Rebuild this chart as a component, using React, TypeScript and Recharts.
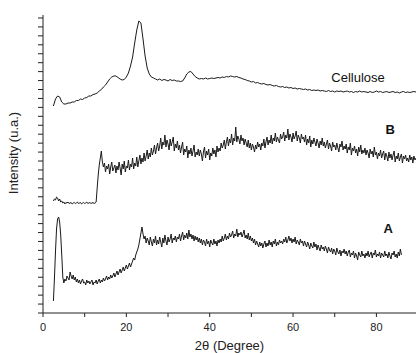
import { LineChart, Line, XAxis, YAxis, ReferenceDot } from "recharts";

// start of all three scans (degrees 2θ) and the step of each recording
const X_START = 2.5;
const STEP_CELLULOSE = 0.5;
const STEP_NOISY = 0.25;

// curve heights above the x axis (arbitrary units, stacked by offset)
const cellulose = [
  207, 214, 217, 216, 211, 209, 209, 210, 210, 211,
  211, 212.5, 212.5, 214, 213.5, 215, 215.5, 217, 217, 218.5,
  219, 220, 222, 223.5, 226, 228, 231, 234, 236, 237,
  237, 235.5, 234, 233, 233.5, 236, 240, 247, 256, 270,
  283, 292, 290, 274, 257, 245, 239, 236, 235, 234,
  233, 234, 232.5, 233.5, 233, 232, 233.5, 232.5, 233, 232,
  232, 231.5, 232, 235, 239, 241, 241.5, 239, 236.5, 235,
  234, 234.5, 234, 235, 234, 234.5, 235, 234.5, 235, 235.5,
  235, 236, 235.5, 236.5, 236, 237, 236.5, 236, 236.5, 235.5,
  235, 234, 233.5, 232.5, 232, 231, 231.5, 230, 230.5, 229.5,
  229, 229.5, 228.5, 228, 228.5, 227.5, 227, 227.5, 226.5, 226,
  226.5, 225.5, 226, 225, 225.5, 224.5, 225, 224, 224.5, 224,
  223.5, 224, 223, 223.5, 222.5, 223, 222.5, 223, 222, 222.5,
  222, 221.5, 222.5, 221.5, 222, 221, 222, 221.5, 222, 221,
  221.5, 222, 221, 221.5, 220.5, 221.5, 221, 222, 221, 221.5,
  221, 220.5, 221.5, 220.5, 221, 222, 221, 221.5, 220.5, 221,
  221.5, 220.5, 221, 221.5, 220.5, 221, 220, 221, 221.5, 220.5,
  221, 220.5, 221, 221.5, 221,
];

const sampleB = [
  112, 114, 113, 116, 115, 112, 114, 111, 112, 110, 111, 109, 110.5, 110, 111, 109.5, 110, 110.5, 109, 110,
  110.5, 109.5, 110, 111, 109.5, 110, 110.5, 109, 110, 110.5, 109.5, 110, 111, 109.5, 110, 110.5, 109.5, 110, 110.5, 109.5,
  110, 111, 125, 138, 148, 155, 162, 151, 146, 150, 141, 147, 144, 149, 139, 146, 151, 142, 145, 148,
  140, 147, 143, 151, 145, 138, 149, 144, 152, 141, 147, 145, 153, 143, 149, 146, 155, 144, 150, 147,
  156, 146, 152, 158, 149, 155, 151, 160, 152, 157, 163, 154, 160, 156, 165, 158, 162, 168, 159, 165,
  170, 162, 167, 175, 164, 171, 168, 178, 166, 173, 169, 163, 174, 167, 171, 176, 162, 169, 165, 172,
  163, 168, 160, 166, 171, 158, 164, 161, 167, 155, 163, 159, 165, 157, 162, 168, 156, 161, 158, 164,
  157, 163, 159, 152, 161, 166, 155, 162, 158, 164, 153, 160, 157, 165, 159, 163, 156, 167, 161, 165,
  162, 170, 165, 168, 173, 164, 171, 176, 167, 174, 170, 179, 168, 175, 172, 186, 171, 177, 174, 169,
  178, 172, 175, 168, 174, 170, 166, 173, 165, 170, 163, 169, 166, 161, 168, 164, 171, 166, 169, 163,
  170, 167, 174, 165, 171, 176, 168, 173, 170, 178, 169, 175, 172, 180, 171, 176, 173, 170, 179, 174,
  176, 181, 172, 178, 175, 184, 173, 179, 176, 171, 180, 174, 177, 182, 172, 178, 175, 170, 179, 174,
  176, 171, 178, 168, 174, 170, 177, 166, 173, 169, 175, 171, 167, 174, 170, 165, 172, 168, 175, 167,
  171, 165, 169, 173, 164, 170, 167, 162, 171, 166, 168, 163, 170, 165, 161, 169, 166, 172, 163, 167,
  164, 169, 160, 166, 163, 170, 158, 165, 162, 167, 160, 164, 157, 166, 161, 168, 159, 163, 160, 165,
  158, 163, 160, 155, 164, 159, 162, 156, 166, 158, 161, 154, 160, 157, 163, 155, 159, 162, 153, 160,
  157, 152, 161, 155, 159, 153, 158, 162, 151, 157, 154, 160, 152, 156, 159, 150, 157, 154, 158, 152,
  155, 151, 158, 153, 156, 150, 157, 153, 155,
];

const sampleA = [
  12, 35, 62, 84, 94, 96, 91, 78, 58, 36, 30, 34, 32, 37, 35, 33, 41, 37, 34, 38,
  33, 36, 31, 34, 30, 33, 29, 32, 34, 30, 31, 28, 33, 30, 32, 29, 31, 33, 28, 31,
  30, 33, 29, 32, 34, 30, 33, 31, 35, 32, 34, 37, 33, 36, 34, 38, 35, 37, 40, 36,
  39, 42, 38, 41, 44, 40, 43, 46, 42, 45, 48, 44, 47, 50, 46, 49, 52, 55, 53, 58,
  61, 64, 68, 74, 80, 86, 79, 74, 77, 70, 75, 72, 68, 76, 71, 67, 74, 70, 77, 68,
  73, 69, 76, 71, 66, 75, 70, 78, 72, 68, 76, 71, 74, 79, 70, 75, 73, 77, 71, 76,
  74, 79, 72, 77, 81, 73, 78, 75, 80, 74, 83, 76, 79, 74, 78, 72, 77, 73, 76, 71,
  75, 70, 74, 68, 73, 71, 67, 74, 69, 72, 66, 73, 70, 68, 74, 69, 72, 67, 73, 70,
  74, 71, 77, 72, 75, 79, 73, 77, 74, 80, 76, 78, 82, 75, 79, 77, 84, 76, 80, 78,
  81, 76, 79, 83, 75, 78, 74, 80, 73, 77, 72, 75, 70, 74, 68, 72, 69, 66, 71, 67,
  70, 65, 69, 72, 66, 70, 67, 73, 68, 71, 66, 72, 69, 74, 67, 71, 68, 73, 70, 72,
  69, 74, 71, 76, 70, 73, 77, 72, 75, 70, 74, 71, 76, 69, 73, 71, 68, 74, 70, 72,
  67, 72, 69, 66, 71, 68, 64, 70, 67, 65, 71, 66, 69, 63, 68, 65, 62, 68, 64, 66,
  62, 67, 64, 60, 66, 63, 61, 65, 59, 64, 62, 58, 65, 61, 59, 63, 57, 62, 60, 64,
  59, 62, 57, 61, 63, 56, 60, 58, 62, 55, 60, 57, 53, 61, 58, 56, 62, 57, 59, 55,
  60, 57, 62, 56, 59, 61, 55, 60, 58, 63, 56, 59, 57, 61, 55, 60, 58, 56, 62, 57,
  59, 55, 61, 57, 54, 60, 58, 62, 56, 59, 55, 61, 57, 64, 58,
];

const xTicks = [0, 10, 20, 30, 40, 50, 60, 70, 80];
const yTicks = Array.from({ length: 34 }, (_, i) => i * 8.94);

const curveLabels = [
  { x: 75.6, y: 236, text: "Cellulose", bold: false },
  { x: 83.3, y: 184, text: "B", bold: true },
  { x: 82.8, y: 85, text: "A", bold: true },
];

const toPoints = (values: number[], step: number) =>
  values.map((y, i) => ({ x: X_START + i * step, y }));

const celluloseData = toPoints(cellulose, STEP_CELLULOSE);
const bData = toPoints(sampleB, STEP_NOISY);
const aData = toPoints(sampleA, STEP_NOISY);

export default function App() {
  return (
    <div
      style={{
        position: "absolute",
        left: -17,
        top: 0,
        fontFamily: "'Liberation Sans', Arial, sans-serif",
        background: "#fff",
      }}
    >
      <LineChart
        width={433}
        height={353}
        margin={{ top: 15, right: 0, left: 0, bottom: 0 }}
      >
        <XAxis
          dataKey="x"
          type="number"
          domain={[0, 89.5]}
          ticks={xTicks}
          tickFormatter={(v: number) => (v % 20 === 0 ? String(v) : "")}
          height={40}
          tickSize={4}
          tickMargin={6}
          stroke="#222"
          tick={{ fill: "#222", fontSize: 11 }}
          allowDuplicatedCategory={false}
          label={{
            value: "2θ (Degree)",
            position: "insideBottom",
            offset: 3,
            fill: "#222",
            fontSize: 13,
          }}
        />
        <YAxis
          dataKey="y"
          type="number"
          domain={[0, 298]}
          ticks={yTicks}
          tickFormatter={() => ""}
          width={60}
          tickSize={5}
          stroke="#222"
          label={{
            value: "Intensity (u.a.)",
            angle: -90,
            position: "center",
            dy: -11,
            fill: "#222",
            fontSize: 13,
          }}
        />
        <Line
          data={celluloseData}
          dataKey="y"
          stroke="#1a1a1a"
          strokeWidth={1}
          dot={false}
          isAnimationActive={false}
        />
        <Line
          data={bData}
          dataKey="y"
          stroke="#1a1a1a"
          strokeWidth={1}
          dot={false}
          isAnimationActive={false}
        />
        <Line
          data={aData}
          dataKey="y"
          stroke="#1a1a1a"
          strokeWidth={1}
          dot={false}
          isAnimationActive={false}
        />
        {curveLabels.map((l) => (
          <ReferenceDot
            key={l.text}
            x={l.x}
            y={l.y}
            r={0}
            fill="none"
            stroke="none"
            label={{
              value: l.text,
              position: "center",
              fill: "#111",
              fontSize: 13,
              fontWeight: l.bold ? "bold" : "normal",
            }}
          />
        ))}
      </LineChart>
    </div>
  );
}
